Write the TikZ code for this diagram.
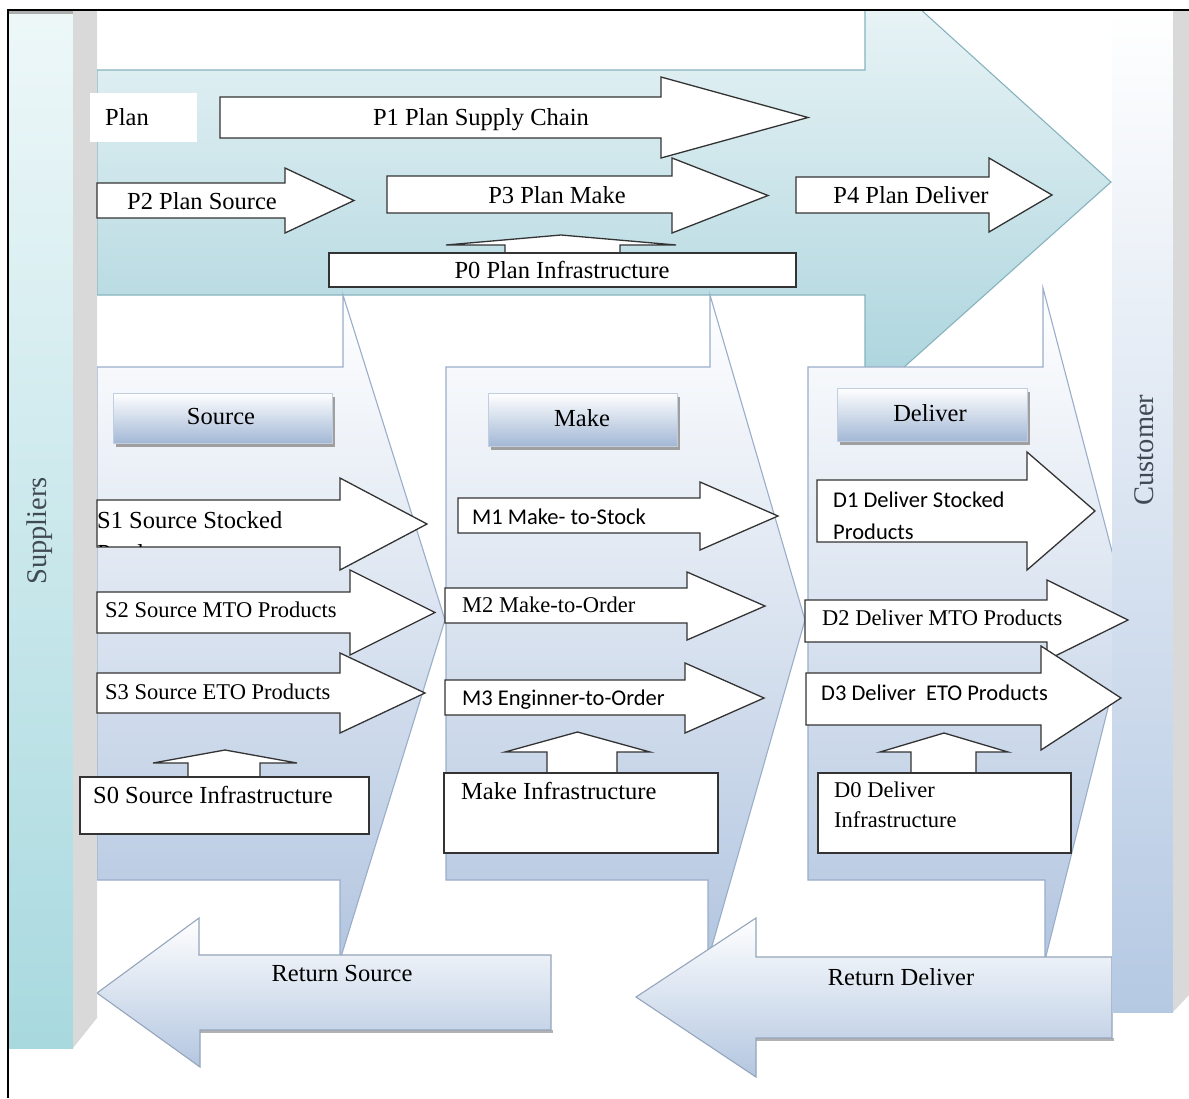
\documentclass[tikz,border=0pt]{standalone}
\usepackage{fontspec}
\setmainfont{Liberation Serif}
\newfontfamily\calib{Carlito}

\definecolor{planTeal}{HTML}{A9D3DC}
\definecolor{colBlue}{HTML}{B3C6E0}
\definecolor{suppTeal}{HTML}{A8D9DF}
\definecolor{custBlue}{HTML}{B5C9E3}
\definecolor{sideGray}{HTML}{D9D9D9}
\definecolor{edgeBlue}{HTML}{9AAECA}
\definecolor{edgeTeal}{HTML}{86B3BE}
\definecolor{inkGray}{HTML}{333333}
\definecolor{hdrBlue}{HTML}{A3B8D6}
\definecolor{barText}{HTML}{404A55}

% right-pointing block arrow: left, head base, tip, body top, body bottom, head top, head bottom
\newcommand\rblock[7]{\draw[smallarrow] (#1,#4) -- (#2,#4) -- (#2,#6) -- (#3,{(#6+#7)/2}) -- (#2,#7) -- (#2,#5) -- (#1,#5) -- cycle;}
% up-pointing block arrow: stem left, stem right, head left, head right, head base, apex y, stem bottom
\newcommand\ublock[7]{\draw[smallarrow] (#1,#7) -- (#1,#5) -- (#3,#5) -- ({(#3+#4)/2},#6) -- (#4,#5) -- (#2,#5) -- (#2,#7) -- cycle;}
% header box with a drop shadow
\newcommand\hdrbox[4]{\fill[gray!75] (#1+3,#2+4) rectangle (#3+3,#4+4);
  \shade[top color=white, bottom color=hdrBlue] (#1,#2) rectangle (#3,#4);
  \draw[edgeBlue!60, line width=0.6pt] (#1,#2) rectangle (#3,#4);}

\begin{document}
\begin{tikzpicture}[x=1pt, y=-1pt,
  smallarrow/.style={draw=inkGray, fill=white, line width=1.3pt, line join=miter},
  colshape/.style={draw=edgeBlue, line width=1.1pt, top color=white, bottom color=colBlue},
  retshape/.style={draw=edgeBlue!80!gray, line width=1.1pt, top color=white, bottom color=colBlue},
  lbl/.style={font=\fontsize{24.5}{29}\selectfont, inner sep=0pt, text height=21pt, text depth=5pt},
  lbls/.style={font=\fontsize{22.5}{27}\selectfont, inner sep=0pt, text height=19.8pt, text depth=5pt},
  slbl/.style={font=\calib\fontsize{22.5}{27}\selectfont, inner sep=0pt, text height=19.5pt, text depth=5pt},
  barlbl/.style={font=\fontsize{28.5}{32}\selectfont, text=barText, inner sep=0pt, rotate=90}]

\useasboundingbox (0,0) rectangle (1189,1098);
\fill[white] (0,0) rectangle (1189,1098);

% ---------- Plan arrow (top band) ----------
\begin{scope}
  \clip (0,10) rectangle (1189,1098);
  \draw[draw=edgeTeal, line width=1.1pt, top color=planTeal!18, bottom color=planTeal]
    (97,70) -- (865,70) -- (865,-41) -- (1111,182) -- (865,402) -- (865,295) -- (97,295) -- cycle;
\end{scope}

% ---------- process columns ----------
\draw[colshape] (97,367) -- (343,367) -- (343,295) -- (445,620) -- (340,960) -- (340,880) -- (97,880) -- cycle;
\draw[colshape] (446,367) -- (710,367) -- (710,295) -- (805,620) -- (708,960) -- (708,880) -- (446,880) -- cycle;
\draw[colshape] (808,367) -- (1043,367) -- (1043,288) -- (1130,620) -- (1045,960) -- (1045,880) -- (808,880) -- cycle;

% ---------- return arrows ----------
\fill[gray!60] (200,1030) rectangle (553,1033);
\draw[retshape] (551,955) -- (199,955) -- (199,918) -- (97,993) -- (200,1067) -- (200,1030) -- (551,1030) -- cycle;
\fill[gray!60] (756,1038) rectangle (1114,1041);
\draw[retshape] (1112,957) -- (756,957) -- (756,918) -- (636,997) -- (756,1077) -- (756,1038) -- (1112,1038) -- cycle;

% ---------- Suppliers and Customer bars ----------
\shade[top color=suppTeal!20, bottom color=suppTeal] (8,10) rectangle (73,1048);
\fill[sideGray] (73,10) -- (97,10) -- (97,1018) -- (73,1048) -- cycle;
\fill[gray!65] (8,10) rectangle (73,14);
\shade[top color=white, bottom color=custBlue] (1112,10) rectangle (1173,1012);
\fill[sideGray] (1173,10) -- (1189,10) -- (1189,995) -- (1173,1012) -- cycle;

% ---------- Plan level ----------
\fill[white] (90,93) rectangle (197,142);
\rblock{220}{661}{808}{97}{138}{77}{158}
\rblock{97}{285}{354}{183}{218}{168}{233}
\rblock{387}{672}{768}{176}{213}{158}{233}
\rblock{796}{989}{1052}{177}{213}{158}{232}
\ublock{505}{620}{446}{676}{245}{235}{256}
\draw[smallarrow] (329,253) rectangle (796,287);

% ---------- headers ----------
\hdrbox{113}{393}{332}{443}
\hdrbox{488}{393}{677}{446}
\hdrbox{837}{388}{1027}{441}

% ---------- Source ----------
\rblock{97}{340}{427}{500}{547}{478}{570}
\rblock{97}{350}{435}{592}{633}{570}{655}
\rblock{97}{340}{425}{673}{713}{653}{733}
\ublock{188}{260}{153}{297}{763}{750}{780}
\draw[smallarrow] (80,777) rectangle (369,834);

% ---------- Make ----------
\rblock{458}{700}{778}{498}{533}{482}{550}
\rblock{445}{687}{765}{588}{623}{572}{640}
\rblock{445}{685}{764}{680}{715}{663}{733}
\ublock{547}{617}{505}{650}{752}{732}{776}
\draw[smallarrow] (444,773) rectangle (718,853);

% ---------- Deliver ----------
\rblock{817}{1027}{1095}{480}{542}{452}{570}
\rblock{805}{1047}{1128}{600}{642}{580}{660}
\rblock{806}{1041}{1121}{673}{725}{646}{750}
\ublock{911}{976}{880}{1008}{752}{733}{776}
\draw[smallarrow] (818,773) rectangle (1071,853);

% ---------- labels ----------
\node[barlbl] (supp) at (40,531) {Suppliers};
\node[barlbl] (cust) at (1144,450) {Customer};

\node[lbl, anchor=west] (plan) at (105,117) {Plan};
\node[lbl] (p1) at (481,117) {P1 Plan Supply Chain};
\node[lbl] (p2) at (202,201) {P2 Plan Source};
\node[lbl] (p3) at (557,195) {P3 Plan Make};
\node[lbl] (p4) at (911,195) {P4 Plan Deliver};
\node[lbl] (p0) at (562,270) {P0 Plan Infrastructure};

\node[lbl] (hsrc) at (221,416) {Source};
\node[lbl] (hmake) at (582,418) {Make};
\node[lbl] (hdel) at (930,413) {Deliver};

\node[lbl, anchor=west] (s1) at (97,520) {S1 Source Stocked};
\begin{scope}
  \clip (90,530) rectangle (340,546);
  \node[lbl, anchor=west] (s1b) at (97,553) {Products};
\end{scope}
\node[lbls, anchor=west] (s2) at (105,610) {S2 Source MTO Products};
\node[lbls, anchor=west] (s3) at (105,692) {S3 Source ETO Products};
\node[lbl, anchor=west] (s0) at (93,795) {S0 Source Infrastructure};

\node[slbl, anchor=west] (m1) at (472,517) {M1 Make- to-Stock};
\node[lbls, anchor=west] (m2) at (462,605) {M2 Make-to-Order};
\node[slbl, anchor=west] (m3) at (462,698) {M3 Enginner-to-Order};
\node[lbl, anchor=west] (m0) at (461,791) {Make Infrastructure};

\node[slbl, anchor=west] (d1a) at (833,500) {D1 Deliver Stocked};
\node[slbl, anchor=west] (d1b) at (833,532) {Products};
\node[lbls, anchor=west] (d2) at (822,618) {D2 Deliver MTO Products};
\node[slbl, anchor=west] (d3) at (821,693) {D3 Deliver\ \ ETO Products};
\node[lbls, anchor=west] (d0a) at (834,790) {D0 Deliver};
\node[lbls, anchor=west] (d0b) at (834,820) {Infrastructure};

\node[lbl] (rsrc) at (342,973) {Return Source};
\node[lbl] (rdel) at (901,977) {Return Deliver};

% ---------- frame ----------
\draw[black, line width=2pt] (8,1098) -- (8,10) -- (1189,10);
\end{tikzpicture}
\end{document}
